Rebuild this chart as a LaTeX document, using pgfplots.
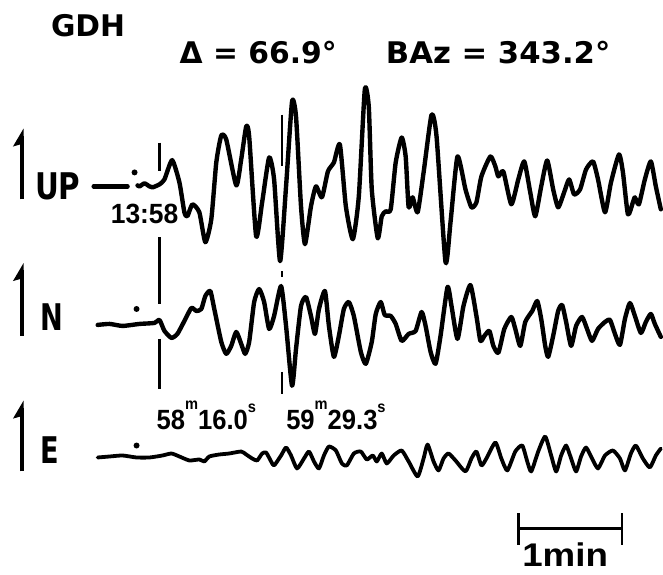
\documentclass[border=0pt]{standalone}
\usepackage{graphicx}
\usepackage{pgfplots}
\pgfplotsset{compat=1.18}
\usepackage{fontspec}
\setmainfont{Liberation Sans}
\newfontfamily\dv{DejaVu Sans}
\newcommand{\fs}[1]{\fontsize{#1}{#1}\selectfont}
\begin{document}
\begin{tikzpicture}
\begin{axis}[width=663bp, height=576bp, scale only axis,
  xmin=0, xmax=663, ymin=0, ymax=576, y dir=reverse, hide axis, clip=false,
  trace/.style={black, line width=4.4bp, smooth, tension=0.35, no marks, line join=round, line cap=round}]
% UP trace
\addplot[trace] coordinates {(94,187) (128,187)};
\addplot[trace] coordinates {
(138,186) (140,187) (145,184) (150,187) (153,188) (160,185) (165,180) (172.7,160.7) (180,183) (185,213) (188,217) (193,205) (200,213) (206,243) (212,220) (217,163) (222,136) (227,140) (237,186) (242,160) (247,127) (250,137) (257,237) (263,203) (270,158) (275,180) (281,262) (287,187) (293,102) (297,117) (302,207) (306,245) (312,207) (317,187) (323,198) (329,172) (335,163) (341,145) (347,207) (354,240) (360,197) (366,90) (370,107) (373,190) (379,239) (383,217) (387,212) (392,210) (397,163) (403,138) (407,157) (410,208) (414,198) (419,213) (425,173) (433,115) (438,137) (447,263) (452,223) (459,157) (467,190) (473,208) (478,203) (483,177) (492,157) (497,167) (500,177) (505,172) (513,205) (520,180) (526,162) (532,193) (537,217) (543,187) (549,161) (555,190) (560,208) (566,193) (571,180) (576,195) (582,190) (588,170) (595,162) (600,180) (607,213) (613,183) (621,155) (625,173) (630,215) (635,203) (637,198) (641,205) (647,180) (653,162) (658,187) (663,210)};
% N trace
\addplot[trace] coordinates {
(98,326) (110,325) (123,327) (140,325) (155,324) (160,321) (165,332) (172,339) (178,335) (185,322) (192,309) (197,312) (202,310) (206,297) (211,292) (215,310) (222,343) (227,355) (232,347) (237,333) (242,345) (246,355) (250,343) (255,303) (260,290) (265,303) (270,330) (275,317) (282,287) (287,327) (293,387) (297,350) (302,307) (307,298) (312,317) (316,335) (320,310) (326,292) (330,327) (335,358) (340,337) (345,310) (350,303) (355,317) (362,353) (367,365) (373,343) (377,315) (382,303) (386,316) (392,317) (397,325) (403,342) (410,335) (417,332) (423,313) (427,327) (432,353) (437,365) (442,337) (449,288) (453,307) (459,340) (465,307) (472,286) (478,317) (482,342) (486,337) (491,332) (495,347) (500,354) (506,330) (513,318) (517,330) (522,347) (527,323) (534,312) (539,302) (543,320) (547,347) (550,358) (555,337) (560,312) (564,306) (568,323) (573,347) (578,327) (584,318) (589,330) (594,342) (600,330) (607,323) (612,321) (617,335) (622,346) (627,320) (632,304) (637,317) (643,334) (648,323) (653,315) (657,325) (663,338)};
% E trace
\addplot[trace, line width=3.8bp] coordinates {
(98,459) (110,458) (123,457) (137,459) (150,459) (163,457) (172,455) (180,458) (190,462) (200,461) (205,463) (210,458) (220,456) (230,455) (242,453) (247,456) (253,460) (258,462) (263,455) (267,454) (272,463) (275,467) (282,457) (287,449) (292,457) (298,470) (305,460) (310,453) (315,463) (320,470) (325,457) (330,448) (337,452) (343,465) (348,467) (355,455) (362,453) (368,461) (374,457) (378,463) (383,455) (388,465) (395,457) (403,452) (410,463) (419,478) (425,460) (429,446) (435,463) (440,472) (445,460) (450,455) (457,462) (467,473) (473,460) (478,453) (483,467) (488,460) (497,444) (503,460) (509,472) (517,453) (524,447) (529,463) (533,473) (540,453) (547,438) (553,457) (558,473) (563,457) (568,447) (573,460) (578,473) (583,458) (588,449) (594,460) (600,470) (607,457) (615,452) (622,460) (627,472) (633,455) (638,447) (645,460) (652,469) (658,457) (663,450)};
% time marks
\draw[line width=2.6bp] (axis cs:160,143) -- (axis cs:160,172);
\draw[line width=2.6bp] (axis cs:160,238) -- (axis cs:160,305);
\draw[line width=2.6bp] (axis cs:160,340) -- (axis cs:160,390);
\draw[line width=2.6bp] (axis cs:283,115) -- (axis cs:283,167);
\draw[line width=2.6bp] (axis cs:283,272) -- (axis cs:283,278);
\draw[line width=2.6bp] (axis cs:283,373) -- (axis cs:283,395);
% dots
\fill (axis cs:135,173) circle (3bp);
\fill (axis cs:137,310) circle (3bp);
\fill (axis cs:137,447) circle (3bp);
% arrows
\draw[line width=3.2bp] (axis cs:22,200) -- (axis cs:22,136);
\fill (axis cs:23.6,129) -- (axis cs:13,147) -- (axis cs:23.6,144) -- cycle;
\draw[line width=3.2bp] (axis cs:22,337) -- (axis cs:22,271);
\fill (axis cs:23.6,264) -- (axis cs:13,282) -- (axis cs:23.6,279) -- cycle;
\draw[line width=3.2bp] (axis cs:22,473) -- (axis cs:22,409);
\fill (axis cs:23.6,402) -- (axis cs:13,420) -- (axis cs:23.6,417) -- cycle;
% labels
\node[anchor=west, inner sep=0] at (axis cs:35,187) {\scalebox{0.8}[1]{\dv\fs{37}\bfseries UP}};
\node[anchor=west, inner sep=0] at (axis cs:40,318) {\scalebox{0.74}[1]{\dv\fs{37}\bfseries N}};
\node[anchor=west, inner sep=0] at (axis cs:40,452) {\scalebox{0.74}[1]{\dv\fs{37}\bfseries E}};
\node[anchor=west, inner sep=0] at (axis cs:51,26) {\dv\fs{30}\bfseries GDH};
\node[anchor=west, inner sep=0] at (axis cs:180,53) {\dv\fs{30}\bfseries Δ = 66.9°};
\node[anchor=west, inner sep=0] at (axis cs:387,53) {\scalebox{1.03}[1]{\dv\fs{30}\bfseries BAz = 343.2°}};
\node[anchor=west, inner sep=0] at (axis cs:111,215) {\scalebox{0.95}[1]{\fs{28}\bfseries 13:58}};
\node[anchor=west, inner sep=0] at (axis cs:157,417) {\scalebox{0.92}[1]{\fs{28}\bfseries 58\raisebox{0.72em}{\fs{16}m}16.0\raisebox{0.62em}{\fs{16}s}}};
\node[anchor=west, inner sep=0] at (axis cs:287,417) {\scalebox{0.92}[1]{\fs{28}\bfseries 59\raisebox{0.72em}{\fs{16}m}29.3\raisebox{0.62em}{\fs{16}s}}};
% scale bar
\draw[line width=2.6bp] (axis cs:520,530) -- (axis cs:624,530);
\draw[line width=2.6bp] (axis cs:520,515) -- (axis cs:520,547);
\draw[line width=2.6bp] (axis cs:624,515) -- (axis cs:624,547);
\node[inner sep=0] at (axis cs:567,556) {\scalebox{1.12}[1]{\fs{33}\bfseries 1min}};
\end{axis}
\path[use as bounding box] (0,0) rectangle (663bp,576bp);
\end{tikzpicture}
\end{document}
